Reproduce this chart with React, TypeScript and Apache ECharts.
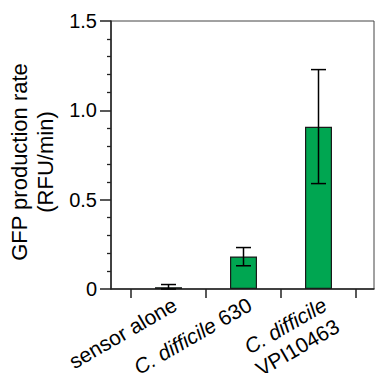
import React, { useEffect, useRef } from "react";
import * as echarts from "echarts";

const categories = ["sensor alone", "{i|C. difficile} 630", "{i|C. difficile}\nVPI10463"];
const means = [0.01, 0.182, 0.908];
const errLow = [0.0, 0.13, 0.59];
const errHigh = [0.025, 0.232, 1.228];
const yTicks = [0, 0.5, 1.0, 1.5];

const FONT = "'Liberation Sans', Arial, Helvetica, sans-serif";

export default function App() {
  const ref = useRef<HTMLDivElement>(null);
  useEffect(() => {
    if (!ref.current) return;
    const chart = echarts.init(ref.current, undefined, { renderer: "svg" });
    const positions = categories.map((_, i) => i);
    chart.setOption({
      animation: false,
      backgroundColor: "#fff",
      grid: {
        left: 111,
        top: 21,
        width: 263,
        height: 268,
        containLabel: false,
        outerBoundsMode: "none",
        show: true,
        borderColor: "#444",
        borderWidth: 1,
        backgroundColor: "transparent",
      },
      xAxis: {
        type: "value",
        min: -0.7667,
        max: 2.74,
        splitLine: { show: false },
        axisLine: { show: true, onZero: false, lineStyle: { color: "#222", width: 1.5 } },
        axisTick: {
          show: true,
          inside: false,
          length: 9,
          lineStyle: { color: "#222", width: 1.5 },
          customValues: [-0.5, 0.5, 1.5, 2.5],
        },
        axisLabel: {
          customValues: positions,
          formatter: (v: number) => categories[Math.round(v)] ?? "",
          rotate: 30,
          align: "right",
          verticalAlign: "top",
          margin: 3,
          fontSize: 21,
          fontFamily: FONT,
          color: "#000",
          lineHeight: 25,
          rich: {
            i: { fontStyle: "italic", fontSize: 21, fontFamily: FONT, color: "#000", lineHeight: 25 },
          },
        },
      },
      yAxis: {
        type: "value",
        min: 0,
        max: 1.5,
        interval: 0.5,
        splitLine: { show: false },
        axisLine: { show: true, onZero: false, lineStyle: { color: "#222", width: 1.5 } },
        axisTick: { show: true, length: 11, lineStyle: { color: "#222", width: 1.5 } },
        minorTick: { show: true, splitNumber: 5, length: 4, lineStyle: { color: "#222", width: 1.3 } },
        axisLabel: {
          margin: 14,
          fontSize: 20,
          fontFamily: FONT,
          color: "#000",
          formatter: (v: number) => {
            const t = yTicks.find((x) => Math.abs(x - v) < 1e-9);
            if (t === undefined) return "";
            return t === 0 ? "0" : t.toFixed(1);
          },
        },
        name: "GFP production rate\n(RFU/min)",
        nameLocation: "middle",
        nameRotate: 90,
        nameGap: 45,
        nameTextStyle: { fontSize: 22, fontFamily: FONT, color: "#000", lineHeight: 26, padding: [0, 14, 0, 0] },
      },
      series: [
        {
          type: "bar",
          barWidth: 27,
          data: means.map((m, i) => [i, m]),
          itemStyle: { color: "#00A651", borderColor: "#1a1a1a", borderWidth: 1.2 },
          z: 2,
        },
        {
          type: "custom",
          z: 5,
          data: means.map((_, i) => [i, errLow[i], errHigh[i]]),
          renderItem: (params: any, api: any) => {
            const x = api.value(0);
            const lo = api.coord([x, api.value(1)]);
            const hi = api.coord([x, api.value(2)]);
            const hw = 7.5;
            const style = { stroke: "#000", lineWidth: 1.5, fill: "none" };
            return {
              type: "group",
              children: [
                { type: "line", shape: { x1: lo[0], y1: lo[1], x2: hi[0], y2: hi[1] }, style },
                { type: "line", shape: { x1: hi[0] - hw, y1: hi[1], x2: hi[0] + hw, y2: hi[1] }, style },
                { type: "line", shape: { x1: lo[0] - hw, y1: lo[1], x2: lo[0] + hw, y2: lo[1] }, style },
              ],
            };
          },
        },
      ],
    });
    return () => chart.dispose();
  }, []);
  return (
    <div
      ref={ref}
      style={{ position: "fixed", left: 0, top: 0, width: 375, height: 373 }}
    />
  );
}
